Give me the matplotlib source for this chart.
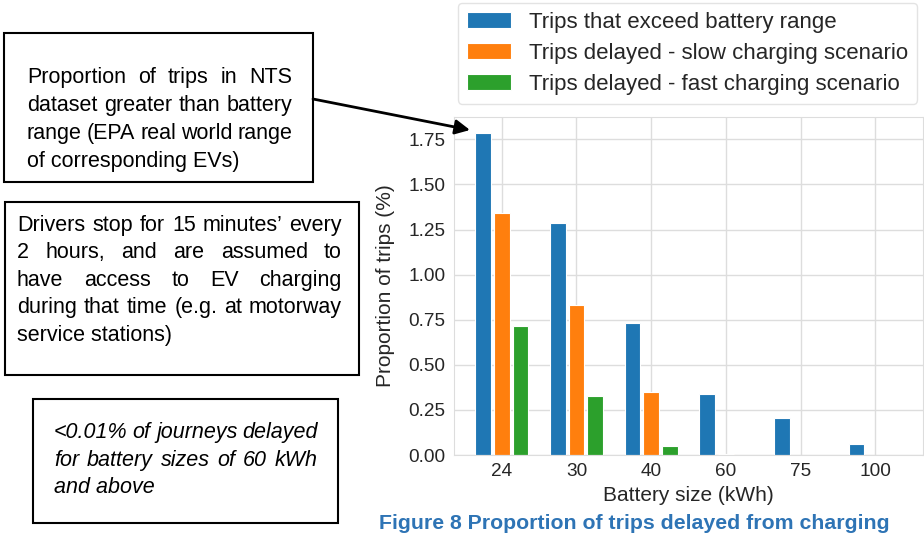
import numpy as np
import matplotlib
matplotlib.use('Agg')
import matplotlib.pyplot as plt
from matplotlib.patches import Rectangle

plt.rcParams['font.family'] = ['Liberation Sans', 'DejaVu Sans']

# data
battery = ['24', '30', '40', '60', '75', '100']
exceed = [1.785, 1.284, 0.732, 0.338, 0.204, 0.060]
slow = [1.343, 0.834, 0.349, 0.005, 0.0, 0.0]
fast = [0.716, 0.327, 0.049, 0.0, 0.0, 0.0]
series_names = ['Trips that exceed battery range',
                'Trips delayed - slow charging scenario',
                'Trips delayed - fast charging scenario']
colors = ['#1f77b4', '#ff7f0e', '#2ca02c']

W, H = 924, 535
fig = plt.figure(figsize=(W/100, H/100), dpi=100)
ax = fig.add_axes([454/W, 1-455/H, (923-454)/W, (455-117)/H])

x = np.arange(len(battery))
bars = []
for k, (vals, off) in enumerate(zip([exceed, slow, fast], [-0.25, 0, 0.25])):
    b = ax.bar(x + off, vals, width=0.21, color=colors[k], edgecolor='white',
               linewidth=0.8, label=series_names[k], zorder=2)
    bars.append(b)

ax.set_xticks(x)
ax.set_xticklabels(battery)
ax.set_yticks([0, 0.25, 0.5, 0.75, 1.0, 1.25, 1.5, 1.75])
ax.set_yticklabels(['0.00', '0.25', '0.50', '0.75', '1.00', '1.25', '1.50', '1.75'])
ax.tick_params(length=0, labelsize=13.7, colors='#262626', pad=6)
ax.grid(True, color='#dddddd', linewidth=1, zorder=0)
ax.set_axisbelow(True)
for s in ax.spines.values():
    s.set_color('#dddddd')
ax.set_xlabel('Battery size (kWh)', fontsize=15, color='#262626', labelpad=4)
ax.set_ylabel('Proportion of trips (%)', fontsize=15, color='#262626')
ax.yaxis.set_label_coords(-0.125, 0.5)

leg = ax.legend(loc='upper right', bbox_to_anchor=(917/W, 1-3/H),
                bbox_transform=fig.transFigure, borderaxespad=0,
                fontsize=16, frameon=True, fancybox=True, labelspacing=0.45)
leg.get_frame().set_edgecolor('#dddddd')
for t in leg.get_texts():
    t.set_color('#262626')

renderer = fig.canvas.get_renderer()


def put_lines(lines, x0, x1, baselines, size, style='normal'):
    for i, (line, yb) in enumerate(zip(lines, baselines)):
        words = line.split(' ')
        if i == len(lines) - 1:
            fig.text(x0/W, 1-yb/H, line, fontsize=size, style=style,
                     va='baseline', ha='left')
            continue
        texts = [fig.text(0, 0, w, fontsize=size, style=style, va='baseline', ha='left')
                 for w in words]
        widths = [t.get_window_extent(renderer).width for t in texts]
        gap = (x1 - x0 - sum(widths)) / (len(words) - 1)
        xp = x0
        for t, w in zip(texts, widths):
            t.set_position((xp/W, 1-yb/H))
            xp += w + gap


def box(x0, y0, x1, y1):
    fig.add_artist(Rectangle((x0/W, 1-y1/H), (x1-x0)/W, (y1-y0)/H,
                             transform=fig.transFigure, fill=False,
                             edgecolor='black', linewidth=1.5))


box(4, 33, 313, 182)
put_lines(['Proportion of trips in NTS',
           'dataset greater than battery',
           'range (EPA real world range',
           'of corresponding EVs)'],
          27, 292, [83, 111, 139, 167], 15.5)

box(5, 202, 359, 375)
put_lines(['Drivers stop for 15 minutes\u2019 every',
           '2 hours, and are assumed to',
           'have access to EV charging',
           'during that time (e.g. at motorway',
           'service stations)'],
          17, 342, [231, 258, 286, 313, 341], 15.5)

box(33, 399, 338, 523)
put_lines(['<0.01% of journeys delayed',
           'for battery sizes of 60 kWh',
           'and above'],
          54, 318, [438, 466, 493], 15.5, style='italic')

ax.annotate('', xy=(470, H-130), xycoords='figure pixels',
            xytext=(313, H-99), textcoords='figure pixels',
            arrowprops=dict(arrowstyle='-|>', color='black', lw=2,
                            mutation_scale=22, shrinkA=0, shrinkB=0),
            annotation_clip=False)

fig.text(634/W, 1-529/H, 'Figure 8 Proportion of trips delayed from charging',
         fontsize=15.3, fontweight='bold', color='#2E74B5', ha='center', va='baseline')

fig.savefig('out.png', dpi=100)
